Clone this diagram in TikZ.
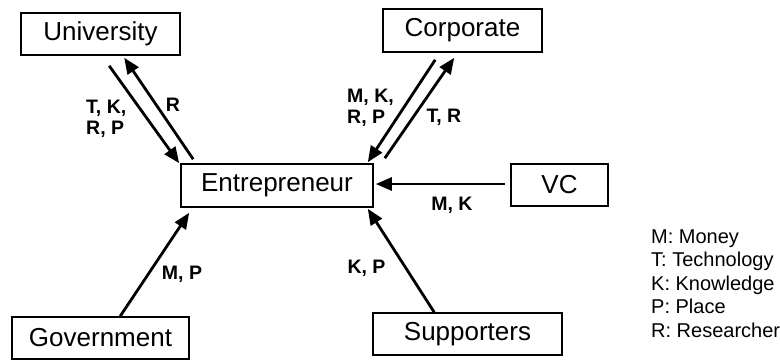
\documentclass[tikz,border=0pt]{standalone}
\usepackage{fontspec}
\setmainfont{Liberation Sans}
\usetikzlibrary{arrows.meta}
\begin{document}
\begin{tikzpicture}[x=1pt,y=-1pt,
  actor/.style={draw, line width=1.6pt, inner sep=0pt, font=\fontsize{26}{30}\selectfont},
  flow/.style={line width=2.8pt, -{Triangle[length=16pt,width=13pt]}},
  flowlabel/.style={font=\fontsize{19.5}{21}\selectfont\bfseries, inner sep=0pt, align=left},
  keyitem/.style={font=\fontsize{20}{23}\selectfont, inner sep=0pt, anchor=base west}]
  \useasboundingbox (0,0) rectangle (780,360);

  % actors
  \node[actor, minimum width=159pt, minimum height=42pt] (uni)  at (100.5,34)  {University};
  \node[actor, minimum width=159pt, minimum height=43pt] (corp) at (462.5,30.5) {Corporate};
  \node[actor, minimum width=192pt, minimum height=43pt] (ent)  at (277,185.5) {Entrepreneur};
  \node[actor, minimum width=97pt,  minimum height=42pt] (vc)   at (559.5,185) {VC};
  \node[actor, minimum width=177pt, minimum height=42pt] (gov)  at (100.5,338) {Government};
  \node[actor, minimum width=189pt, minimum height=42pt] (sup)  at (467.5,334) {Supporters};

  % resource flows
  \draw[flow] ([shift={(89,10)}]uni.south west) -- ([shift={(-1,0)}]ent.north west);
  \draw[flow] ([shift={(13,-4)}]ent.north west) -- ([shift={(104,2)}]uni.south west);
  \draw[flow] ([shift={(53,7)}]corp.south west) -- ([shift={(-6,-1)}]ent.north east);
  \draw[flow] ([shift={(11,-5)}]ent.north east) -- ([shift={(72,5)}]corp.south west);
  \draw[flow] ([shift={(-5,-1)}]vc.west) -- ([shift={(2,-1.5)}]ent.east);
  \draw[flow] ([shift={(109,0)}]gov.north west) -- ([shift={(9,5)}]ent.south west);
  \draw[flow] ([shift={(62,0)}]sup.north west) -- ([shift={(-6,1)}]ent.south east);

  % flow labels
  \node[flowlabel, anchor=west] (l1) at (86,119)  {T, K,\\R, P};
  \node[flowlabel] (l2) at (173,105)  {R};
  \node[flowlabel, anchor=west] (l3) at (347,108) {M, K,\\R, P};
  \node[flowlabel] (l4) at (444,117.5) {T, R};
  \node[flowlabel] (l5) at (452,205.5) {M, K};
  \node[flowlabel] (l6) at (182,274.5) {M, P};
  \node[flowlabel] (l7) at (366.5,268.5) {K, P};

  % key
  \node[keyitem] (k1) at (651,243) {M: Money};
  \node[keyitem] (k2) at (651,266.5) {T: Technology};
  \node[keyitem] (k3) at (651,290) {K: Knowledge};
  \node[keyitem] (k4) at (651,313.5) {P: Place};
  \node[keyitem] (k5) at (651,337) {R: Researcher};
\end{tikzpicture}
\end{document}
